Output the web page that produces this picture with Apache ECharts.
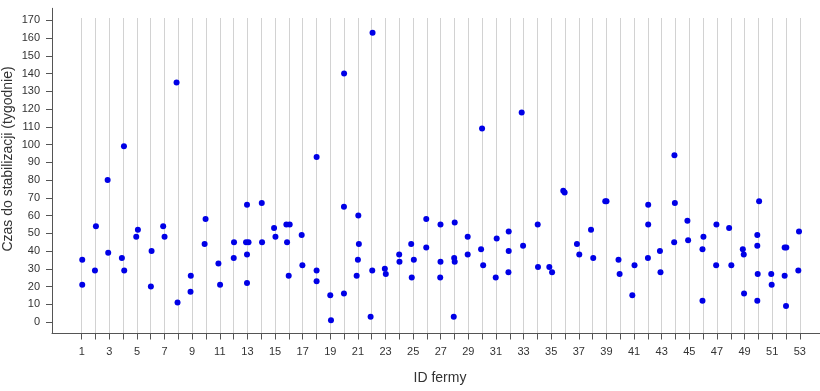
<!DOCTYPE html>
<html>
<head>
<meta charset="utf-8">
<script src="https://cdn.jsdelivr.net/npm/echarts@6/dist/echarts.min.js"></script>
<style>html,body{margin:0;padding:0;background:#fff;}#c{width:820px;height:391px;}</style>
</head>
<body>
<div id="c"></div>
<script>
// Farm position (farm ID with the small horizontal jitter seen in the picture)
const farmPos = [
  1.04,1.04, 2.03,1.96, 2.88,2.92, 4.06,3.91,4.08, 4.95,5.07, 6.06,6.01, 6.90,7.00,
  7.87,7.94, 8.90,8.88, 9.97,9.90, 10.90,11.02, 12.03,12.01,
  12.97,12.90,13.08,12.97,12.97, 14.04,14.06, 14.93,15.03, 15.82,16.06,15.87,15.99,
  16.93,16.98, 18.01,18.01,18.01, 19.00,19.05, 20.00,19.99,19.99,
  21.03,21.07,21.00,20.91, 22.06,22.04,21.92, 22.95,23.02, 23.99,24.01,
  24.86,25.05,24.90, 25.95,25.95, 26.98,26.98,26.96, 28.01,27.97,28.01,27.94,
  28.95,28.95, 29.99,29.92,30.07, 31.05,30.98, 31.92,31.92,31.90, 32.86,32.96,
  34.02,34.04, 34.86,35.06, 35.87,35.97, 36.86,37.03, 37.88,38.04, 38.91,39.00,
  39.87,39.95, 40.87,41.03, 42.02,42.02,42.00, 42.87,42.91, 43.92,43.95,43.90,
  44.86,44.91, 46.02,45.95,45.95, 46.96,46.94, 47.88,48.04, 48.87,48.94,48.96,
  50.05,49.92,49.92,49.95,49.92, 50.93,50.96, 51.90,52.02,51.90,52.00, 52.94,52.89
];
// Time to stabilisation (weeks)
const weeks = [
  35,21, 54,29, 80,39, 99,36,29, 48,52, 40,20, 54,48,
  135,11, 26,17, 58,44, 33,21, 45,36,
  66,45,45,38,22, 67,45, 53,48, 55,55,45,26,
  49,32, 93,29,23, 15,1, 140,65,16,
  60,44,35,26, 163,29,3, 30,27, 38,34,
  44,35,25, 58,42, 55,34,25, 56,36,34,3,
  48,38, 109,41,32, 47,25, 51,40,28, 118,43,
  55,31, 31,28, 74,73, 44,38, 52,36, 68,68,
  35,27, 15,32, 66,55,36, 40,28, 94,67,45,
  57,46, 48,41,12, 55,32, 53,32, 41,38,16,
  68,49,43,27,12, 27,21, 42,42,26,9, 51,29
];
const farmTicks = Array.from({length: 53}, (_, i) => i + 1);
const weekTicks = Array.from({length: 18}, (_, i) => i * 10);

const points = farmPos.map((x, i) => [x, weeks[i]]);
const axisColor = '#555';
const textColor = '#333';
const font = 'Liberation Sans, Arial, sans-serif';

const chart = echarts.init(document.getElementById('c'), null, {renderer: 'canvas'});
chart.setOption({
  animation: false,
  backgroundColor: '#fff',
  grid: [
    {left: 52, right: 0, top: 8.3, bottom: 57.5, containLabel: false, outerBoundsMode: 'none'},
    {left: 81.7, right: 20.2, top: 18, bottom: 57.5, containLabel: false, outerBoundsMode: 'none'},
    {left: 52, right: 0, top: 20.4, bottom: 69, containLabel: false, outerBoundsMode: 'none'}
  ],
  xAxis: [
    {gridIndex: 0, type: 'value', min: -1.15, max: 54.46,
     axisLine: {show: true, onZero: false, lineStyle: {color: axisColor, width: 1}},
     axisTick: {show: false}, axisLabel: {show: false}, splitLine: {show: false},
     name: 'ID fermy', nameLocation: 'middle', nameGap: 38,
     nameTextStyle: {fontFamily: font, fontSize: 14, color: textColor, padding: [0, 0, 0, 8]}},
    {gridIndex: 1, type: 'value', min: farmTicks[0], max: farmTicks[farmTicks.length-1], interval: 1,
     axisLine: {show: false, onZero: false},
     axisTick: {show: true, length: 6, lineStyle: {color: axisColor}},
     axisLabel: {show: true, margin: 13, fontFamily: font, fontSize: 11, color: textColor,
       formatter: v => (Math.round(v) % 2 === 1 ? String(Math.round(v)) : '')},
     splitLine: {show: true, lineStyle: {color: '#d2d2d2', width: 1}}},
    {gridIndex: 2, type: 'value', show: false, min: 0, max: 1}
  ],
  yAxis: [
    {gridIndex: 0, type: 'value', min: -6.5, max: 176.8,
     axisLine: {show: true, onZero: false, lineStyle: {color: axisColor, width: 1}},
     axisTick: {show: false}, axisLabel: {show: false}, splitLine: {show: false}},
    {gridIndex: 1, type: 'value', show: false, min: 0, max: 1},
    {gridIndex: 2, type: 'value', min: weekTicks[0], max: weekTicks[weekTicks.length-1], interval: 10,
     axisLine: {show: false, onZero: false},
     axisTick: {show: true, length: 6, lineStyle: {color: axisColor}},
     axisLabel: {show: true, margin: 12, fontFamily: font, fontSize: 11, color: textColor},
     splitLine: {show: false}}
  ],
  graphic: [{
    type: 'text', x: 8, y: 159, rotation: Math.PI / 2,
    style: {text: 'Czas do stabilizacji (tygodnie)', fontFamily: font, fontSize: 14,
      fill: textColor, align: 'center', verticalAlign: 'middle'}
  }],
  series: [{
    type: 'scatter', xAxisIndex: 0, yAxisIndex: 0,
    data: points, symbol: 'circle', symbolSize: 6,
    itemStyle: {color: '#0000e6', opacity: 1}, z: 5
  }]
});
</script>
</body>
</html>
